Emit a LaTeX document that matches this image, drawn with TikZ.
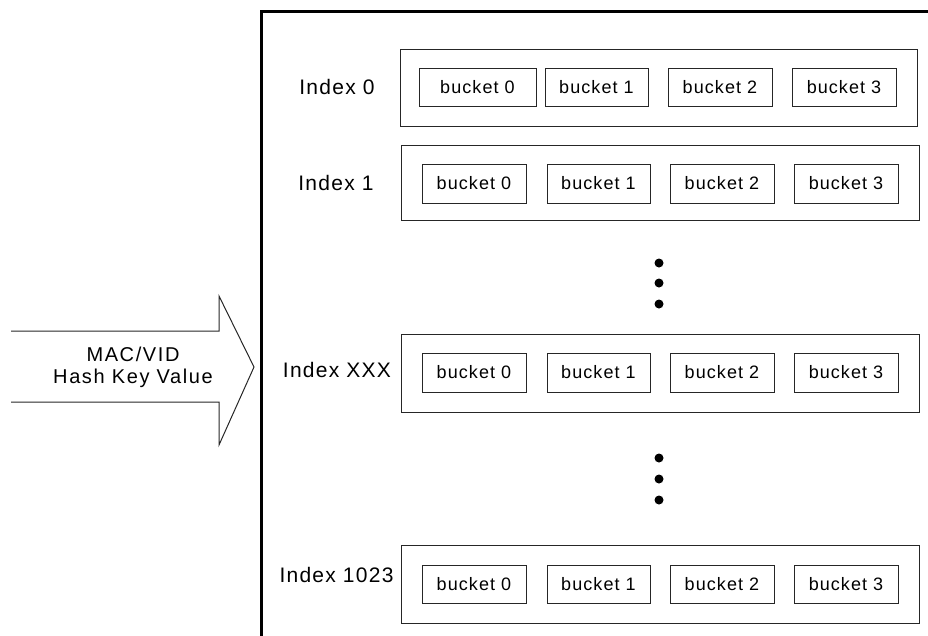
\documentclass[tikz,border=0pt]{standalone}
\usepackage{fontspec}
\setmainfont{Liberation Sans}[LetterSpace=8]
\newfontfamily\bucketfont{Liberation Sans}[LetterSpace=6]
\begin{document}
\begin{tikzpicture}[x=1pt,y=-1pt,
  rowbox/.style={draw=black!85, line width=1pt, inner sep=0pt},
  bucketbox/.style={draw=black!85, line width=1pt, inner sep=0pt, minimum width=104pt, minimum height=39pt, font=\bucketfont\fontsize{18}{20}\selectfont},
  idxlabel/.style={inner sep=0pt, font=\bucketfont\fontsize{21}{22}\selectfont},
  dotmark/.style={circle, fill=black, inner sep=0pt, minimum size=9pt},
  keytext/.style={inner sep=0pt, align=center, font=\fontsize{20}{22}\selectfont}]
\useasboundingbox (0,0) rectangle (928,635);
% frame
\draw[line width=3pt] (261,660) -- (261,11) -- (960,11);
% arrow
\draw[line width=1pt, black!85] (11,331) -- (219,331) -- (219,296) -- (254,367) -- (219,445) -- (219,402) -- (11,402);
\node[keytext] (key) at (133,367) {MAC/VID\\Hash Key Value};
% row 0
\node[rowbox, minimum width=517pt, minimum height=77pt] (r0) at (658.5,87.5) {};
\node[idxlabel] (i0) at (337,87) {Index 0};
\node[bucketbox, minimum width=117pt, minimum height=38pt] (r0b0) at (477.5,87) {bucket 0};
\node[bucketbox, minimum width=103pt, minimum height=38pt] (r0b1) at (596.5,87) {bucket 1};
\node[bucketbox, minimum height=38pt] (r0b2) at (720,87) {bucket 2};
\node[bucketbox, minimum height=38pt] (r0b3) at (844,87) {bucket 3};
% row 1
\node[rowbox, minimum width=518pt, minimum height=75pt] (r1) at (660,182.5) {};
\node[idxlabel] (i1) at (336,183) {Index 1};
\node[bucketbox] (r1b0) at (474,183.5) {bucket 0};
\node[bucketbox, minimum width=103pt] (r1b1) at (598.5,183.5) {bucket 1};
\node[bucketbox] (r1b2) at (722,183.5) {bucket 2};
\node[bucketbox] (r1b3) at (846,183.5) {bucket 3};
% dots 1
\node[dotmark] (d1) at (659,263) {};
\node[dotmark] (d2) at (659,283) {};
\node[dotmark] (d3) at (659,304) {};
% row XXX
\node[rowbox, minimum width=518pt, minimum height=78pt] (rx) at (660,373) {};
\node[idxlabel] (ix) at (337,370) {Index XXX};
\node[bucketbox] (rxb0) at (474,372.5) {bucket 0};
\node[bucketbox, minimum width=103pt] (rxb1) at (598.5,372.5) {bucket 1};
\node[bucketbox] (rxb2) at (722,372.5) {bucket 2};
\node[bucketbox] (rxb3) at (846,372.5) {bucket 3};
% dots 2
\node[dotmark] (d4) at (659,458) {};
\node[dotmark] (d5) at (659,479) {};
\node[dotmark] (d6) at (659,500) {};
% row 1023
\node[rowbox, minimum width=518pt, minimum height=78pt] (rl) at (660,584) {};
\node[idxlabel] (il) at (336.5,575) {Index 1023};
\node[bucketbox, minimum height=38pt] (rlb0) at (474,584) {bucket 0};
\node[bucketbox, minimum width=103pt, minimum height=38pt] (rlb1) at (598.5,584) {bucket 1};
\node[bucketbox, minimum height=38pt] (rlb2) at (722,584) {bucket 2};
\node[bucketbox, minimum height=38pt] (rlb3) at (846,584) {bucket 3};
\end{tikzpicture}
\end{document}
